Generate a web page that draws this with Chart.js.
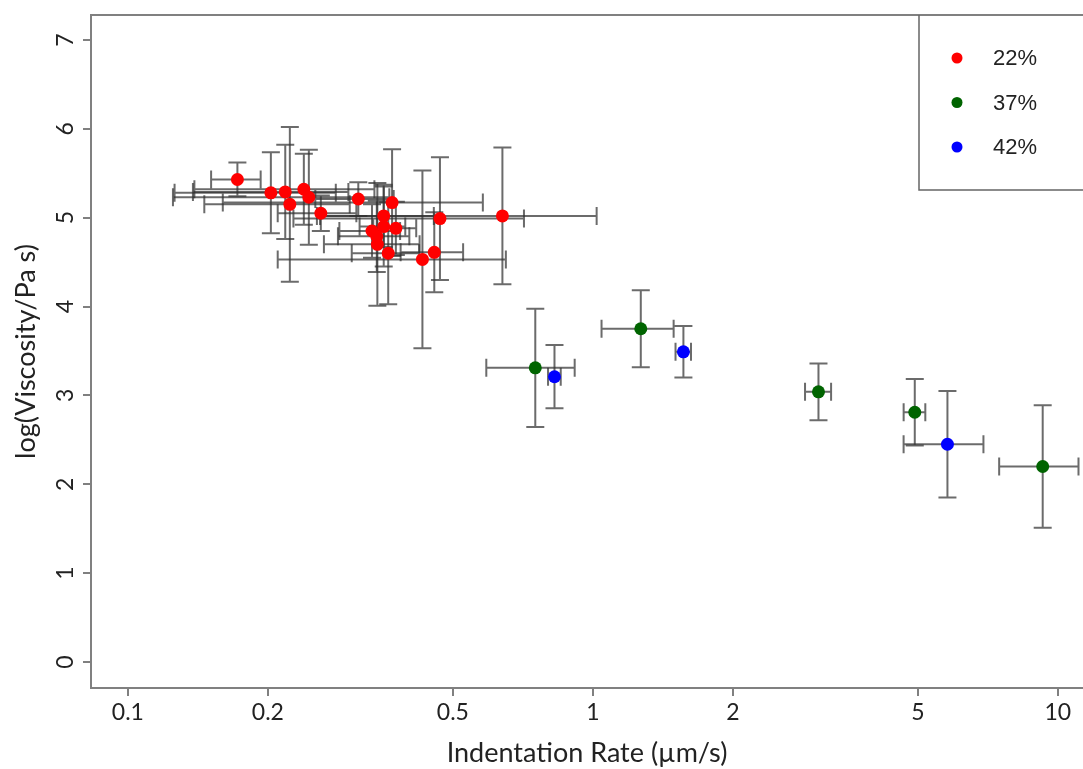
<!DOCTYPE html>
<html>
<head>
<meta charset="utf-8">
<script src="https://cdn.jsdelivr.net/npm/chart.js@4.4.1/dist/chart.umd.min.js"></script>
<style>
  html, body { margin: 0; padding: 0; background: #fff; }
  #wrap { width: 1083px; height: 769px; }
</style>
</head>
<body>
<div id="wrap"><canvas id="myChart" width="1083" height="769"></canvas></div>
<script>
// ticks del eje x (escala log) y del eje y
const xTicks = [0.1, 0.2, 0.5, 1, 2, 5, 10];
const yTicks = [0, 1, 2, 3, 4, 5, 6, 7];

// 22% (rojo)
const red22X = [0.172, 0.203, 0.218, 0.223, 0.239, 0.245, 0.260, 0.313, 0.370, 0.355, 0.335, 0.343, 0.344, 0.355, 0.377, 0.363, 0.469, 0.456, 0.430, 0.639];
const red22Y = [5.43, 5.28, 5.29, 5.15, 5.32, 5.23, 5.05, 5.21, 5.17, 5.02, 4.85, 4.79, 4.70, 4.90, 4.88, 4.60, 4.99, 4.61, 4.53, 5.02];
const red22XErr = [0.021, 0.077, 0.080, 0.077, 0.100, 0.120, 0.050, 0.060, 0.210, 0.100, 0.050, 0.060, 0.080, 0.040, 0.040, 0.060, 0.242, 0.070, 0.220, 0.380];
const red22YErr = [0.19, 0.455, 0.53, 0.87, 0.40, 0.535, 0.20, 0.19, 0.60, 0.35, 0.30, 0.40, 0.69, 0.45, 0.30, 0.575, 0.69, 0.45, 1.00, 0.77];

// 37% (verde)
const green37X = [0.752, 1.268, 3.057, 4.925, 9.28];
const green37Y = [3.31, 3.75, 3.04, 2.81, 2.20];
const green37XErr = [0.162, 0.224, 0.197, 0.264, 1.80];
const green37YErr = [0.665, 0.432, 0.32, 0.375, 0.69];

// 42% (azul)
const blue42X = [0.827, 1.566, 5.79];
const blue42Y = [3.21, 3.49, 2.45];
const blue42XErr = [0.026, 0.06, 1.13];
const blue42YErr = [0.356, 0.29, 0.60];

const grupos = [
  { label: '22%', color: '#ff0000', x: red22X, y: red22Y, xe: red22XErr, ye: red22YErr },
  { label: '37%', color: '#006400', x: green37X, y: green37Y, xe: green37XErr, ye: green37YErr },
  { label: '42%', color: '#0000ff', x: blue42X, y: blue42Y, xe: blue42XErr, ye: blue42YErr }
];

const fuente = 'Lato, "Open Sans", sans-serif';

// barras de error, debajo de los puntos
const barras = {
  id: 'barras',
  beforeDatasetsDraw(chart) {
    const { ctx, scales: { x, y } } = chart;
    const cap = 9;
    ctx.save();
    ctx.strokeStyle = 'rgba(50,50,50,0.72)';
    ctx.lineWidth = 2;
    grupos.forEach(g => {
      g.x.forEach((xv, i) => {
        const px = x.getPixelForValue(xv);
        const py = y.getPixelForValue(g.y[i]);
        const x1 = x.getPixelForValue(xv - g.xe[i]);
        const x2 = x.getPixelForValue(xv + g.xe[i]);
        const y1 = y.getPixelForValue(g.y[i] + g.ye[i]);
        const y2 = y.getPixelForValue(g.y[i] - g.ye[i]);
        ctx.beginPath();
        ctx.moveTo(x1, py); ctx.lineTo(x2, py);
        ctx.moveTo(x1, py - cap); ctx.lineTo(x1, py + cap);
        ctx.moveTo(x2, py - cap); ctx.lineTo(x2, py + cap);
        ctx.stroke();
        ctx.beginPath();
        ctx.moveTo(px, y1); ctx.lineTo(px, y2);
        ctx.moveTo(px - cap, y1); ctx.lineTo(px + cap, y1);
        ctx.moveTo(px - cap, y2); ctx.lineTo(px + cap, y2);
        ctx.stroke();
      });
    });
    ctx.restore();
  }
};

// marco superior y leyenda dentro del grafico
const marco = {
  id: 'marco',
  afterDraw(chart) {
    const { ctx, chartArea } = chart;
    ctx.save();
    ctx.strokeStyle = '#808080';
    ctx.lineWidth = 2;
    ctx.beginPath();
    ctx.moveTo(chartArea.left, chartArea.top);
    ctx.lineTo(chartArea.right, chartArea.top);
    ctx.stroke();

    // leyenda
    const lx = 919, ly = chartArea.top, lh = 175;
    ctx.strokeStyle = '#666';
    ctx.lineWidth = 1.5;
    ctx.beginPath();
    ctx.moveTo(chartArea.right + 5, ly + lh);
    ctx.lineTo(lx, ly + lh);
    ctx.lineTo(lx, ly);
    ctx.stroke();
    ctx.font = '22px "Liberation Sans", Arial, sans-serif';
    ctx.textBaseline = 'middle';
    ctx.textAlign = 'left';
    grupos.forEach((g, i) => {
      const cy = 58 + i * 44.5;
      ctx.fillStyle = g.color;
      ctx.beginPath();
      ctx.arc(957, cy, 5.5, 0, Math.PI * 2);
      ctx.fill();
      ctx.fillStyle = '#222';
      ctx.fillText(g.label, 993, cy + 1);
    });
    ctx.restore();
  }
};

const ctx = document.getElementById('myChart');
const myChart = new Chart(ctx, {
  type: 'scatter',
  data: {
    datasets: grupos.map(g => ({
      label: g.label,
      data: g.x.map((xv, i) => ({ x: xv, y: g.y[i] })),
      backgroundColor: g.color,
      borderWidth: 0,
      pointRadius: 6.5,
      pointHoverRadius: 6.5
    }))
  },
  options: {
    responsive: false,
    animation: false,
    layout: { autoPadding: false, padding: { top: 15, right: 0, left: 0, bottom: 0 } },
    plugins: {
      legend: { display: false },
      tooltip: { enabled: false }
    },
    scales: {
      x: {
        type: 'logarithmic',
        min: 0.0833,
        max: 11.33,
        afterBuildTicks: (s) => { s.ticks = xTicks.map(v => ({ value: v })); },
        afterFit: (s) => { s.height = 81; s.paddingLeft = 0; s.paddingRight = 0; },
        grid: { drawOnChartArea: false, drawTicks: true, tickLength: 8, color: '#808080', lineWidth: 2 },
        border: { color: '#808080', width: 2 },
        ticks: {
          autoSkip: false, maxRotation: 0, minRotation: 0, padding: 3,
          color: '#222', font: { family: fuente, size: 23 },
          callback: (v) => String(v)
        },
        title: {
          display: true, text: 'Indentation Rate (µm/s)', color: '#222',
          font: { family: fuente, size: 27 }, padding: { top: 0, bottom: 0 }
        }
      },
      y: {
        min: -0.293,
        max: 7.281,
        afterBuildTicks: (s) => { s.ticks = yTicks.map(v => ({ value: v })); },
        afterFit: (s) => { s.width = 91; s.paddingTop = 0; s.paddingBottom = 0; },
        grid: { drawOnChartArea: false, drawTicks: true, tickLength: 8, color: '#808080', lineWidth: 2 },
        border: { color: '#808080', width: 2 },
        ticks: {
          minRotation: 90, maxRotation: 90, crossAlign: 'center', padding: 11,
          color: '#222', font: { family: fuente, size: 23 }
        },
        title: {
          display: true, text: 'log(Viscosity/Pa s)', color: '#222',
          font: { family: fuente, size: 27 }, padding: { top: 10, bottom: 0 }
        }
      }
    }
  },
  plugins: [barras, marco]
});
</script>
</body>
</html>
